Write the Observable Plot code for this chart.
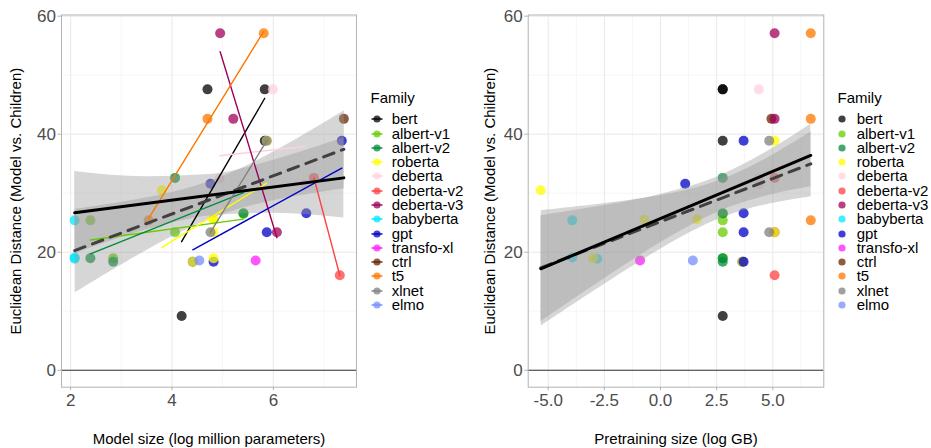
<!DOCTYPE html>
<html>
<head>
<meta charset="utf-8">
<script src="https://cdn.jsdelivr.net/npm/d3@7"></script>
<script src="https://cdn.jsdelivr.net/npm/@observablehq/plot@0.6"></script>
<style>
  html, body { margin: 0; padding: 0; background: #ffffff; }
  #wrap { position: relative; width: 931px; height: 448px; overflow: hidden; font-family: "Liberation Sans", Arial, sans-serif; }
  #left, #right { position: absolute; top: 0; }
  #left { left: 0; }
  #right { left: 465px; }
  .legend { position: absolute; top: 0; left: 0; width: 931px; height: 448px; pointer-events: none; }
  .legend .ttl { position: absolute; font-size: 15px; line-height: 14px; color: #000; }
  .legend .row { position: absolute; font-size: 15px; line-height: 14px; height: 14px; color: #000; white-space: nowrap; }
  .legend svg { position: absolute; overflow: visible; }
</style>
</head>
<body>
<div id="wrap">
  <div id="left"></div>
  <div id="right"></div>
  <div class="legend" id="legend"></div>
</div>
<script>
// ---- Data ----
const families = ["bert","albert-v1","albert-v2","roberta","deberta","deberta-v2","deberta-v3","babyberta","gpt","transfo-xl","ctrl","t5","xlnet","elmo"];
const familyColors = ["#000000","#66cc00","#008c3a","#ffff00","#ffd0dd","#ff4040","#a0005a","#00e8ff","#0000c8","#ff1cff","#682300","#ff7700","#808080","#778dff"];

const pointFamily = [
  "bert","bert","bert","bert",
  "albert-v1","albert-v1","albert-v1","albert-v1",
  "albert-v2","albert-v2","albert-v2","albert-v2",
  "babyberta","babyberta","babyberta",
  "ctrl",
  "deberta","deberta","deberta",
  "deberta-v2","deberta-v2",
  "deberta-v3","deberta-v3","deberta-v3",
  "gpt","roberta","elmo",
  "gpt","gpt","gpt","gpt","gpt",
  "roberta","roberta","roberta","roberta","roberta","roberta",
  "t5","t5","t5",
  "transfo-xl",
  "xlnet","xlnet"
];
// log million parameters
const modelSize = [
  4.70,5.83,5.83,4.19,
  2.39,2.84,4.06,5.41,
  2.39,2.84,4.06,5.41,
  2.08,2.08,2.08,
  7.39,
  4.94,5.99,6.62,
  6.80,7.31,
  4.95,5.21,6.07,
  4.41,4.41,4.54,
  4.76,4.82,5.87,6.65,7.35,
  3.80,4.82,4.82,4.82,4.82,5.87,
  3.54,4.70,5.81,
  5.65,
  4.76,5.87
];
// log GB of pretraining data
const pretrainSize = [
  2.77,2.77,2.77,2.77,
  2.77,2.77,2.77,2.77,
  2.77,2.77,2.77,2.77,
  -3.93,-3.93,-2.82,
  4.94,
  4.38,4.38,4.38,
  5.08,5.08,
  5.08,5.08,5.08,
  3.64,3.64,1.44,
  1.10,3.70,3.70,3.70,3.70,
  -5.33,-3.00,-0.71,1.62,5.08,5.08,
  6.69,6.69,6.69,
  -0.91,
  4.84,4.84
];
// Euclidean distance (model vs. children)
const distance = [
  47.6,47.6,38.9,9.2,
  25.4,19.0,23.4,26.5,
  19.0,18.4,32.6,26.6,
  25.4,19.1,18.9,
  42.6,
  32.5,47.6,31.5,
  32.6,16.1,
  57.1,42.6,23.4,
  18.4,18.4,18.6,
  31.6,18.4,23.4,26.6,38.9,
  30.5,19.0,25.5,25.6,23.4,38.9,
  25.4,42.6,57.1,
  18.6,
  23.4,38.9
];

// Solid model fit (second model) with its band
const solidSizeX = [2.08, 7.39];
const solidSizeY = [26.7, 32.6];
const solidSizeBandX  = [2.08, 3.5, 4.8, 6.0, 7.39];
const solidSizeBandLo = [19.7, 23.8, 26.2, 26.6, 25.8];
const solidSizeBandHi = [33.7, 32.8, 33.2, 35.6, 39.4];

const solidPreX = [-5.33, 6.69];
const solidPreY = [17.2, 36.4];
const solidPreBandX  = [-5.33, -2.5, 0, 2.5, 4.5, 6.69];
const solidPreBandLo = [8.2, 15.5, 21.6, 26.7, 29.3, 31.1];
const solidPreBandHi = [26.2, 27.9, 29.8, 32.7, 36.5, 41.7];

const yTicks = [0, 20, 40, 60];
const yMinor = [10, 30, 50];
const sizeTicks = [2, 4, 6];
const sizeMinor = [3, 5, 7];
const preTicks = [-5, -2.5, 0, 2.5, 5];
const preMinor = [-3.75, -1.25, 1.25, 3.75, 6.25];

// ---- Build ----
const data = pointFamily.map((f, i) => ({family: f, size: modelSize[i], pretrain: pretrainSize[i], dist: distance[i]}));
const toRows = (xs, ys) => xs.map((x, i) => ({x, y: ys[i]}));
const toBand = (xs, lo, hi) => xs.map((x, i) => ({x, lo: lo[i], hi: hi[i]}));

const FONT = "'Liberation Sans', Arial, sans-serif";
const yDomain = [-2.87, 60.2];

function panel(o) {
  const marks = [
    Plot.gridX(o.xMinor, {stroke: "#f4f4f4", strokeOpacity: 1, strokeWidth: 0.8}),
    Plot.gridY(yMinor, {stroke: "#f4f4f4", strokeOpacity: 1, strokeWidth: 0.8}),
    Plot.gridX(o.xTicks, {stroke: "#e8e8e8", strokeOpacity: 1, strokeWidth: 1}),
    Plot.gridY(yTicks, {stroke: "#e8e8e8", strokeOpacity: 1, strokeWidth: 1}),
    Plot.ruleY([0], {stroke: "#333333", strokeWidth: 1.1}),
    Plot.dot(data, {x: o.xKey, y: "dist", fill: "family", r: 5, fillOpacity: 0.75}),
    // OLS fit band (dashed line)
    Plot.linearRegressionY(data, {x: o.xKey, y: "dist", ci: 0.95, stroke: "none", fill: "#999999", fillOpacity: 0.4}),
    // second model band (solid line)
    Plot.areaY(o.band, {x: "x", y1: "lo", y2: "hi", fill: "#999999", fillOpacity: 0.4, curve: "monotone-x"})
  ];
  if (o.familyLines) {
    const multi = new Set(Array.from(d3.group(data, d => d.family), ([k, v]) => [k, d3.extent(v, d => d[o.xKey])])
      .filter(([k, e]) => e[1] > e[0]).map(([k]) => k));
    marks.push(Plot.linearRegressionY(data.filter(d => multi.has(d.family)), {x: o.xKey, y: "dist", stroke: "family", ci: 0, strokeWidth: 1.4}));
  }
  marks.push(
    Plot.linearRegressionY(data, {x: o.xKey, y: "dist", ci: 0, stroke: "#404040", strokeWidth: 3, strokeDasharray: "11,8"}),
    Plot.line(o.solid, {x: "x", y: "y", stroke: "#000000", strokeWidth: 3}),
    Plot.frame({stroke: "#b3b3b3", strokeWidth: 1}),
    Plot.axisX({ticks: o.xTicks, tickFormat: o.tickFormat, tickSize: 3.5, tickPadding: 3, fontSize: 17, stroke: "#b3b3b3", fill: "#4d4d4d", label: null}),
    Plot.axisY({ticks: yTicks, tickSize: 3.5, tickPadding: 2, fontSize: 17, stroke: "#b3b3b3", fill: "#4d4d4d", label: null}),
    Plot.text([o.xLabel], {text: d => d, frameAnchor: "bottom", dy: 57, lineAnchor: "bottom", textAnchor: "middle", fontSize: 15, fill: "#000"}),
    Plot.text(["Euclidean Distance (Model vs. Children)"], {text: d => d, frameAnchor: "left", dx: -o.yLabelOffset, rotate: -90, lineAnchor: "top", textAnchor: "middle", fontSize: 15, fill: "#000"})
  );
  return Plot.plot({
    width: o.width, height: 448,
    marginLeft: o.marginLeft, marginRight: o.marginRight, marginTop: 14.5, marginBottom: 61.3,
    x: {domain: o.xDomain},
    y: {domain: yDomain},
    color: {domain: families, range: familyColors},
    style: {fontFamily: FONT, background: "transparent", overflow: "visible"},
    marks
  });
}

document.getElementById("left").append(panel({
  xKey: "size", xDomain: [1.82, 7.64], xTicks: sizeTicks, xMinor: sizeMinor,
  tickFormat: d => String(d), xLabel: "Model size (log million parameters)",
  width: 465, marginLeft: 61, marginRight: 109, yLabelOffset: 51,
  solid: toRows(solidSizeX, solidSizeY), band: toBand(solidSizeBandX, solidSizeBandLo, solidSizeBandHi),
  familyLines: true
}));

document.getElementById("right").append(panel({
  xKey: "pretrain", xDomain: [-5.89, 7.27], xTicks: preTicks, xMinor: preMinor,
  tickFormat: d => d.toFixed(1), xLabel: "Pretraining size (log GB)",
  width: 466, marginLeft: 62.7, marginRight: 107.7, yLabelOffset: 44,
  solid: toRows(solidPreX, solidPreY), band: toBand(solidPreBandX, solidPreBandLo, solidPreBandHi),
  familyLines: false
}));

// ---- Legends ----
const legend = document.getElementById("legend");
function addLegend(titleX, keyX, labelX, withLine) {
  const t = document.createElement("div");
  t.className = "ttl"; t.textContent = "Family";
  t.style.left = titleX + "px"; t.style.top = (98 - 7) + "px";
  legend.append(t);
  families.forEach((f, i) => {
    const cy = 119.3 + i * 14.28;
    const ns = "http://www.w3.org/2000/svg";
    const svg = document.createElementNS(ns, "svg");
    svg.setAttribute("width", 14); svg.setAttribute("height", 14);
    svg.style.left = (keyX - 7) + "px"; svg.style.top = (cy - 7) + "px";
    if (withLine) {
      const ln = document.createElementNS(ns, "line");
      ln.setAttribute("x1", 1.5); ln.setAttribute("x2", 12.5); ln.setAttribute("y1", 7); ln.setAttribute("y2", 7);
      ln.setAttribute("stroke", familyColors[i]); ln.setAttribute("stroke-width", 1.4);
      svg.append(ln);
    }
    const c = document.createElementNS(ns, "circle");
    c.setAttribute("cx", 7); c.setAttribute("cy", 7); c.setAttribute("r", 3.6);
    c.setAttribute("fill", familyColors[i]); c.setAttribute("fill-opacity", 0.75);
    svg.append(c);
    legend.append(svg);
    const r = document.createElement("div");
    r.className = "row"; r.textContent = f;
    r.style.left = labelX + "px"; r.style.top = (cy - 7) + "px";
    legend.append(r);
  });
}
addLegend(370.5, 376.5, 391.7, true);
addLegend(837.5, 842.3, 856.7, false);
</script>
</body>
</html>
